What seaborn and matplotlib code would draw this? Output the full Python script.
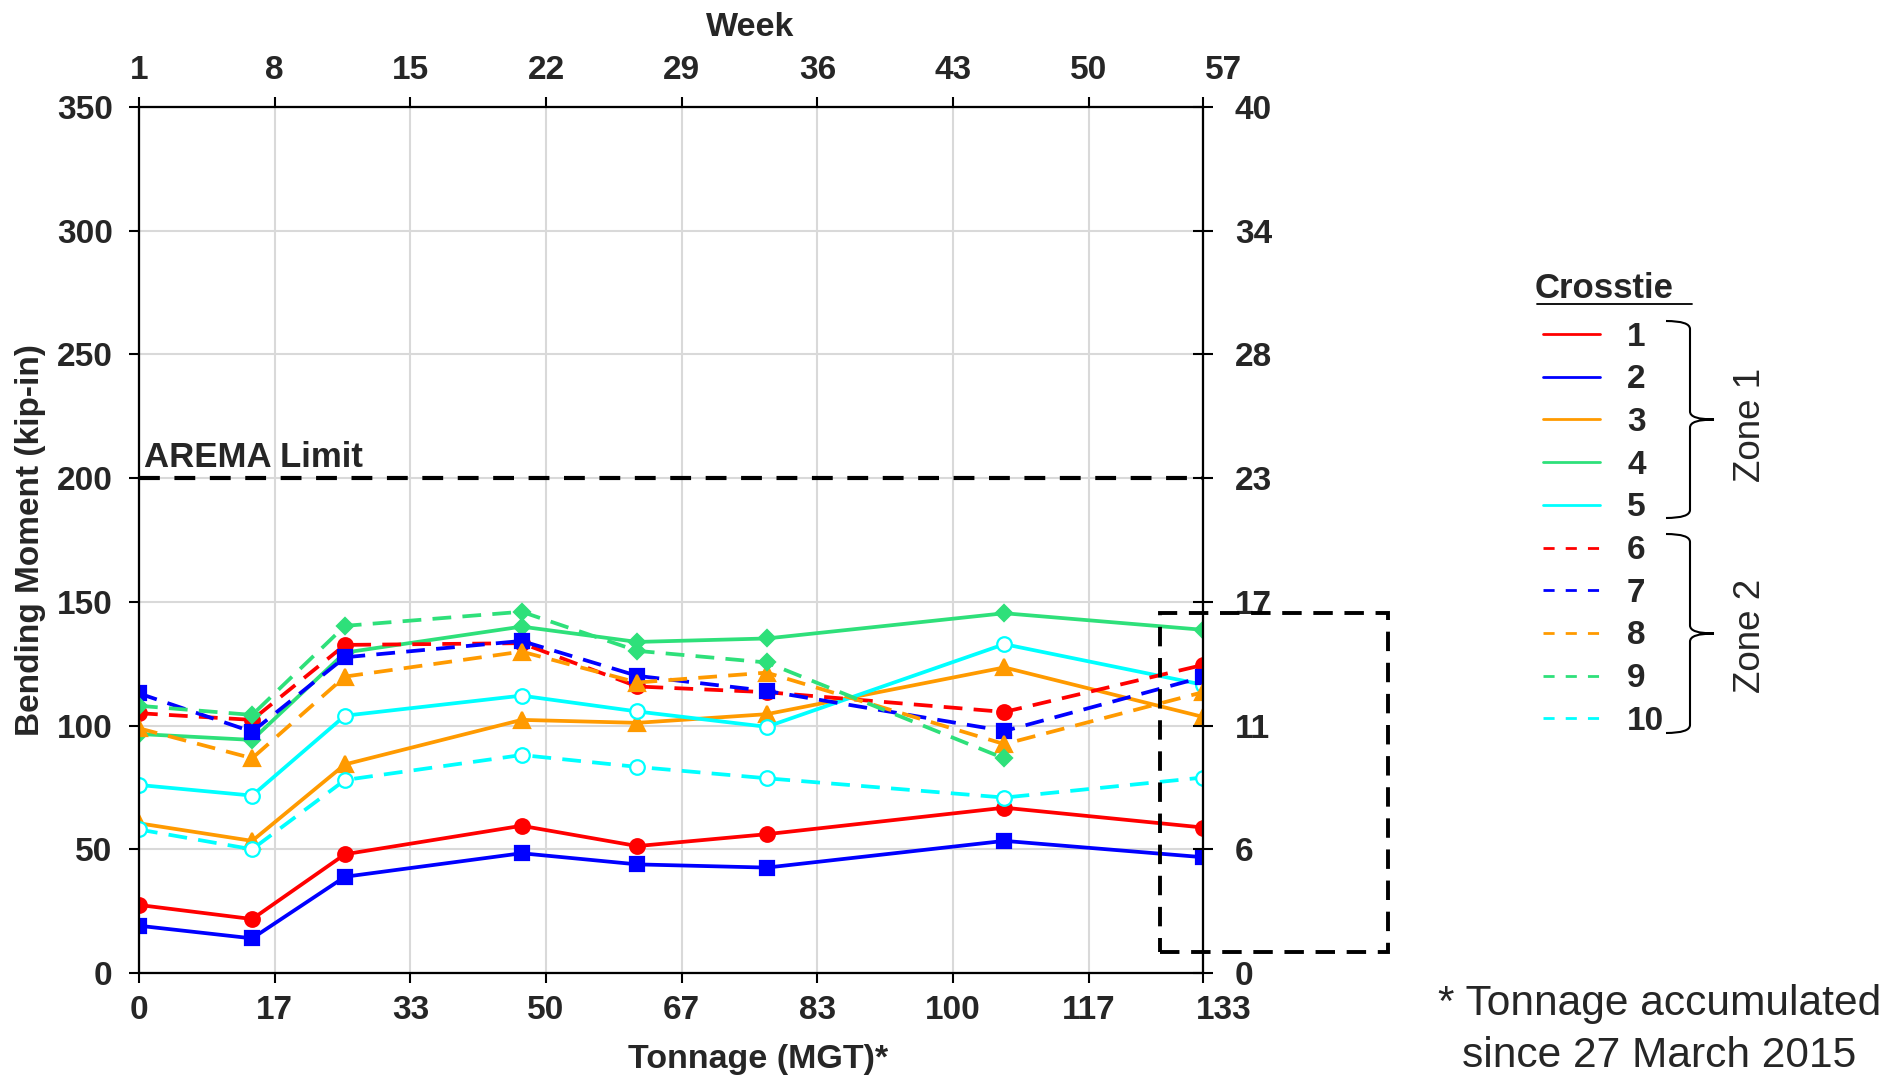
import numpy as np
import pandas as pd
import seaborn as sns
import matplotlib.pyplot as plt
from matplotlib.lines import Line2D
from matplotlib.path import Path
from matplotlib.patches import PathPatch, Rectangle
from matplotlib.transforms import ScaledTranslation

# Datos
tonnage = [0, 13.9, 25.3, 47.0, 61.2, 77.1, 106.3, 130.7]
crossties = ['1', '2', '3', '4', '5', '6', '7', '8', '9', '10']
ct1 = [27.5, 21.8, 48.0, 59.5, 51.3, 56.1, 66.8, 58.8]
ct2 = [19.1, 14.0, 38.9, 48.4, 43.9, 42.6, 53.4, 46.8]
ct3 = [60.5, 53.4, 84.3, 102.3, 101.1, 104.6, 123.5, 103.5]
ct4 = [96.6, 94.2, 129.5, 140.0, 133.8, 135.2, 145.4, 138.7]
ct5 = [76.0, 71.7, 104.0, 112.1, 105.7, 99.5, 132.9, 116.5]
ct6 = [105.0, 102.3, 132.6, 133.3, 115.8, 113.5, 105.5, 124.5]
ct7 = [113.0, 97.5, 127.6, 134.2, 120.1, 114.0, 97.8, 119.6]
ct8 = [98.9, 86.8, 119.8, 129.9, 117.4, 121.4, 92.5, 113.5]
ct9 = [108.0, 104.3, 140.3, 146.0, 130.2, 125.5, 86.7, np.nan]
ct10 = [58.0, 50.0, 78.0, 88.1, 83.3, 78.7, 70.9, 79.0]
moments = [ct1, ct2, ct3, ct4, ct5, ct6, ct7, ct8, ct9, ct10]

arema_limit = 200
x_max = 130.7
x_ticks = [0, 16.667, 33.333, 50, 66.667, 83.333, 100, 116.667, x_max]
x_labels = ['0', '17', '33', '50', '67', '83', '100', '117', '133']
week_labels = ['1', '8', '15', '22', '29', '36', '43', '50', '57']
y_ticks = [0, 50, 100, 150, 200, 250, 300, 350]
knm_labels = ['0', '6', '11', '17', '23', '28', '34', '40']

# Estilos
red, blue, orange, green, cyan = '#FF0000', '#0000FF', '#FF9A00', '#2EE07A', '#00FFFF'
colors = [red, blue, orange, green, cyan] * 2
markers = ['o', 's', '^', 'D', 'o'] * 2
msizes = [10.5, 10.5, 11.5, 8.5, 10.5] * 2
dash = (0, (5, 3))
styles = ['-'] * 5 + [dash] * 5

sns.set_theme(style="white")
plt.rcParams['font.family'] = ['Liberation Sans', 'DejaVu Sans']
plt.rcParams['font.weight'] = 'bold'

W, H = 1882, 1079
fig = plt.figure(figsize=(W / 100, H / 100), dpi=100)
ax = fig.add_axes([139 / W, 1 - 973 / H, 1064 / W, 866 / H])

def px(x, y):
    return x / W, 1 - y / H

for i, name in enumerate(crossties):
    d = pd.DataFrame({'tonnage': tonnage, 'moment': moments[i]})
    face = 'white' if markers[i] == 'o' and colors[i] == cyan else colors[i]
    sns.lineplot(data=d, x='tonnage', y='moment', ax=ax, color=colors[i],
                 linewidth=2.7, linestyle=styles[i], marker=markers[i],
                 markersize=msizes[i], markerfacecolor=face,
                 markeredgecolor=colors[i], markeredgewidth=1.6,
                 estimator=None, sort=False, legend=False)

ax.axhline(arema_limit, color='black', lw=3, linestyle=(0, (5, 3.5)))
ax.text(0.6, arema_limit + 4.5, 'AREMA Limit', fontsize=25, va='baseline', ha='left')

ax.set_xlim(0, x_max)
ax.set_ylim(0, 350)
ax.set_xticks(x_ticks)
ax.set_xticklabels(x_labels)
ax.set_yticks(y_ticks)
ax.grid(True, color='#d9d9d9', linewidth=1.5)
ax.set_axisbelow(True)
ax.tick_params(axis='both', which='both', bottom=True, left=True, direction='out',
               length=7, width=1.5, color='black', labelsize=24)
ax.tick_params(axis='x', pad=9)
ax.tick_params(axis='y', pad=12)
ax.set_xlabel('Tonnage (MGT)*', fontsize=24.5, fontweight='bold')
ax.xaxis.set_label_coords(0.582, -0.082)
ax.set_ylabel('Bending Moment (kip-in)', fontsize=24, fontweight='bold')
ax.yaxis.set_label_coords(-0.087, 0.5)

# Eje superior (semanas)
ax_t = ax.twiny()
ax_t.set_xlim(0, x_max)
ax_t.set_xticks(x_ticks)
ax_t.set_xticklabels(week_labels)
ax_t.tick_params(axis='x', top=True, bottom=False, direction='out', length=7,
                 width=1.5, color='black', labelsize=24, pad=8)
ax_t.set_xlabel('Week', fontsize=24.5, fontweight='bold')
ax_t.xaxis.set_label_coords(0.574, 1.082)
ax_t.grid(False)

# la ultima etiqueta va un poco a la derecha de su marca
shift = ScaledTranslation(0.21, 0, fig.dpi_scale_trans)
for lab in (ax.get_xticklabels()[-1], ax_t.get_xticklabels()[-1]):
    lab.set_transform(lab.get_transform() + shift)

# Eje derecho (kN-m)
ax_r = ax.twinx()
ax_r.set_ylim(0, 350)
ax_r.set_yticks(y_ticks)
ax_r.set_yticklabels(knm_labels)
ax_r.tick_params(axis='y', right=True, left=False, direction='inout', length=14,
                 width=1.5, color='black', labelsize=24, pad=16)
ax_r.grid(False)

for a in (ax, ax_t, ax_r):
    for s in a.spines.values():
        s.set_color('black')
        s.set_linewidth(1.5)

# Recuadro discontinuo
fig.add_artist(Rectangle(px(1160, 952), 228 / W, 339 / H, transform=fig.transFigure,
                         fill=False, edgecolor='black', lw=2.8, linestyle=(0, (5, 3))))

# Leyenda manual
fig.text(*px(1535, 288), 'Crosstie', fontsize=25, ha='left', va='center')
fig.add_artist(Line2D([1537 / W, 1692 / W], [1 - 304 / H] * 2, color='black', lw=1.3))
y0, dy = 334, 42.7
for i, name in enumerate(crossties):
    y = y0 + i * dy
    fig.add_artist(Line2D([1543 / W, 1600 / W], [1 - y / H] * 2, color=colors[i],
                          lw=2, linestyle='-' if i < 5 else (0, (4, 4))))
    fig.text(*px(1627, y + 3), name, fontsize=24, ha='left', va='center')

def brace(xl, xm, xt, yt, yb, r=8):
    ym = (yt + yb) / 2
    pts = [(xl, yt), (xm, yt), (xm, yt + r), (xm, ym - r), (xm, ym), (xt, ym),
           (xm, ym), (xm, ym + r), (xm, yb - r), (xm, yb), (xl, yb)]
    codes = [Path.MOVETO, Path.CURVE3, Path.CURVE3, Path.LINETO, Path.CURVE3, Path.CURVE3,
             Path.CURVE3, Path.CURVE3, Path.LINETO, Path.CURVE3, Path.CURVE3]
    verts = [px(x, y) for x, y in pts]
    fig.add_artist(PathPatch(Path(verts, codes), transform=fig.transFigure,
                             fill=False, edgecolor='black', lw=1.5))

brace(1666, 1690, 1714, 321, 518)
brace(1666, 1690, 1714, 534, 733)
fig.text(*px(1750, 425), 'Zone 1', fontsize=26.5, fontweight='normal', rotation=90,
         ha='center', va='center')
fig.text(*px(1750, 636), 'Zone 2', fontsize=26.5, fontweight='normal', rotation=90,
         ha='center', va='center')

# Nota
fig.text(*px(1438, 1004), '* Tonnage accumulated', fontsize=30.6, fontweight='normal',
         ha='left', va='center')
fig.text(*px(1462, 1056), 'since 27 March 2015', fontsize=30.6, fontweight='normal',
         ha='left', va='center')

fig.savefig('out.png', dpi=100)
